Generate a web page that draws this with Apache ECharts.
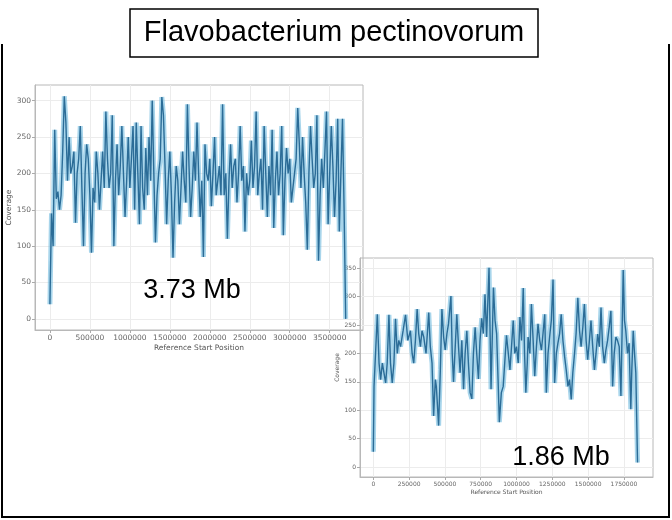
<!DOCTYPE html>
<html>
<head>
<meta charset="utf-8">
<script src="https://cdn.jsdelivr.net/npm/echarts@6/dist/echarts.min.js"></script>
<style>
  html, body { margin: 0; padding: 0; background: #fff; }
  #wrap { position: relative; width: 672px; height: 520px; }
  #plots, #annot { position: absolute; left: 0; top: 0; width: 672px; height: 520px; }
  #plots { filter: blur(0.45px); }
</style>
</head>
<body>
<div id="wrap">
  <div id="plots"></div>
  <div id="annot"></div>
</div>
<script>
// Genome-wide read coverage for the two replicons of Flavobacterium pectinovorum.
const titleText = 'Flavobacterium pectinovorum';
const sizeLabels = ['3.73 Mb', '1.86 Mb'];

// Replicon 1: coverage per 20 kb window, from position 0
const repliconAStep = 20000;
const repliconACoverage = [
  20, 145, 100, 260, 165, 175, 150, 170, 230, 306,
  270, 190, 250, 200, 210, 230, 132, 200, 220, 265,
  180, 100, 200, 240, 220, 170, 91, 180, 160, 230,
  200, 150, 190, 230, 180, 285, 220, 180, 200, 280,
  100, 190, 240, 170, 210, 265, 200, 140, 190, 250,
  180, 220, 265, 150, 270, 200, 130, 265, 180, 150,
  235, 170, 250, 190, 300, 200, 105, 170, 200, 220,
  305, 280, 210, 130, 190, 230, 170, 84, 160, 210,
  190, 130, 180, 230, 190, 160, 295, 210, 140, 180,
  230, 190, 270, 200, 140, 190, 85, 240, 200, 190,
  220, 155, 200, 250, 170, 190, 210, 170, 295, 170,
  200, 110, 190, 240, 180, 210, 220, 160, 200, 265,
  190, 210, 120, 200, 170, 190, 245, 180, 210, 285,
  170, 200, 220, 150, 265, 200, 140, 210, 170, 260,
  125, 190, 230, 170, 200, 265, 115, 190, 235, 200,
  220, 160, 180, 200, 220, 290, 240, 180, 250, 200,
  160, 95, 200, 265, 220, 180, 200, 280, 80, 170,
  220, 180, 230, 285, 130, 200, 265, 210, 140, 190,
  275, 120, 200, 275, 150, 0
];

// Replicon 2: window start (kb) and coverage
const repliconBStartKb = [
  0, 5, 28, 40, 51, 63, 74, 86, 97, 109,
  120, 132, 144, 155, 167, 178, 190, 208, 225, 241,
  259, 271, 282, 294, 306, 317, 329, 340, 352, 368,
  387, 398, 410, 421, 433, 440, 456, 468, 479, 491,
  502, 514, 525, 542, 551, 560, 572, 583, 595, 606,
  618, 630, 641, 653, 664, 676, 688, 699, 711, 722,
  734, 745, 757, 768, 780, 791, 808, 822, 839, 850,
  861, 871, 880, 894, 907, 930, 954, 965, 977, 988,
  1000, 1012, 1024, 1035, 1047, 1056, 1065, 1075, 1081, 1093,
  1104, 1116, 1127, 1139, 1150, 1162, 1174, 1185, 1197, 1208,
  1220, 1231, 1243, 1255, 1266, 1278, 1289, 1301, 1312, 1324,
  1336, 1347, 1359, 1370, 1382, 1393, 1405, 1416, 1428, 1440,
  1451, 1463, 1474, 1486, 1497, 1509, 1520, 1532, 1544, 1555,
  1567, 1578, 1590, 1601, 1613, 1624, 1636, 1647, 1659, 1671,
  1682, 1694, 1705, 1717, 1729, 1745, 1754, 1763, 1775, 1786,
  1798, 1805, 1815, 1824, 1833, 1845
];
const repliconBCoverage = [
  27, 142, 269, 183, 154, 183, 183, 148, 183, 268,
  183, 148, 183, 261, 200, 223, 212, 240, 268, 223,
  240, 200, 183, 223, 278, 235, 212, 240, 229, 200,
  272, 212, 183, 90, 154, 142, 73, 171, 278, 229,
  206, 235, 252, 301, 200, 150, 212, 269, 212, 166,
  223, 137, 200, 240, 183, 131, 120, 200, 246, 200,
  155, 223, 262, 235, 304, 229, 351, 137, 316, 258,
  235, 155, 79, 131, 142, 232, 171, 212, 258, 200,
  212, 183, 264, 223, 315, 200, 131, 183, 229, 200,
  287, 223, 160, 212, 252, 223, 206, 235, 269, 131,
  200, 229, 258, 330, 148, 200, 218, 235, 269, 223,
  194, 171, 142, 154, 119, 166, 200, 235, 298, 240,
  212, 246, 287, 223, 189, 223, 258, 212, 171, 200,
  234, 212, 281, 212, 183, 206, 223, 246, 275, 142,
  200, 229, 223, 212, 125, 347, 258, 240, 200, 218,
  102, 171, 240, 200, 166, 8
];

// Tick values shown on each axis
const xTicksA = [0, 500000, 1000000, 1500000, 2000000, 2500000, 3000000, 3500000];
const yTicksA = [0, 50, 100, 150, 200, 250, 300];
const xTicksB = [0, 250000, 500000, 750000, 1000000, 1250000, 1500000, 1750000];
const yTicksB = [0, 50, 100, 150, 200, 250, 300, 350];

const seriesA = repliconACoverage.map((v, i) => [i * repliconAStep, v]);
const seriesB = repliconBCoverage.map((v, i) => [repliconBStartKb[i] * 1000, v]);

const FONT = 'DejaVu Sans';
const BAND = 'rgba(110,185,222,0.6)';
const CORE = '#2b6c97';
const plain = v => String(v);

function xAxis(gridIndex, min, max, ticks, fs, gap) {
  return {
    type: 'value', gridIndex, min, max,
    name: 'Reference Start Position', nameLocation: 'middle', nameGap: gap,
    nameTextStyle: { fontFamily: FONT, fontSize: fs, color: '#555' },
    axisLine: { show: true, onZero: false, lineStyle: { color: '#b8b8b8', width: 1 } },
    axisTick: { show: true, customValues: ticks, length: 3, lineStyle: { color: '#aaa' } },
    axisLabel: { customValues: ticks, formatter: plain, fontFamily: FONT, fontSize: fs, color: '#666', margin: 4 },
    splitLine: { show: true, lineStyle: { color: '#ececec', width: 1 } }
  };
}
function yAxis(gridIndex, min, max, ticks, fs, gap) {
  return {
    type: 'value', gridIndex, min, max,
    name: 'Coverage', nameLocation: 'middle', nameGap: gap, nameRotate: 90,
    nameTextStyle: { fontFamily: FONT, fontSize: fs, color: '#555' },
    axisLine: { show: true, onZero: false, lineStyle: { color: '#b8b8b8', width: 1 } },
    axisTick: { show: true, customValues: ticks, length: 3, lineStyle: { color: '#aaa' } },
    axisLabel: { customValues: ticks, formatter: plain, fontFamily: FONT, fontSize: fs, color: '#666', margin: 4 },
    splitLine: { show: true, lineStyle: { color: '#ececec', width: 1 } }
  };
}
function coverageSeries(idx, data) {
  return [
    { type: 'line', xAxisIndex: idx, yAxisIndex: idx, data, symbol: 'none', silent: true,
      lineStyle: { color: BAND, width: 5 }, z: 2 },
    { type: 'line', xAxisIndex: idx, yAxisIndex: idx, data, symbol: 'none', silent: true,
      lineStyle: { color: CORE, width: 1.4 }, z: 3 }
  ];
}

const plots = echarts.init(document.getElementById('plots'), null, { renderer: 'canvas' });
plots.setOption({
  backgroundColor: '#fff',
  animation: false,
  grid: [
    { left: 35, top: 85, width: 328, height: 245, show: true, borderColor: '#b8b8b8', borderWidth: 1, backgroundColor: 'transparent' },
    { left: 360, top: 258, width: 293, height: 219, show: true, borderColor: '#b8b8b8', borderWidth: 1, backgroundColor: 'transparent' }
  ],
  xAxis: [
    xAxis(0, -186500, 3916500, xTicksA, 7.5, 14),
    xAxis(1, -93000, 1953000, xTicksB, 6, 12)
  ],
  yAxis: [
    yAxis(0, -15.3, 321.5, yTicksA, 7.5, 22),
    yAxis(1, -17.5, 368, yTicksB, 6, 18)
  ],
  series: [...coverageSeries(0, seriesA), ...coverageSeries(1, seriesB)]
});

// Frame, title box and replicon size labels drawn crisp on top
const annot = echarts.init(document.getElementById('annot'), null, { renderer: 'canvas' });
annot.setOption({
  backgroundColor: 'transparent',
  animation: false,
  graphic: [
    { type: 'polyline', shape: { points: [[2, 44], [2, 517], [669, 517], [669, 44]] }, silent: true,
      style: { fill: 'none', stroke: '#000', lineWidth: 2 }, z: 100 },
    { type: 'rect', shape: { x: 130, y: 9, width: 408, height: 48 }, silent: true,
      style: { fill: '#fff', stroke: '#000', lineWidth: 1.5 }, z: 101 },
    { type: 'text', x: 334, y: 33, silent: true, z: 102,
      style: { text: titleText, fontFamily: 'Liberation Sans', fontSize: 29, fill: '#000', align: 'center', verticalAlign: 'middle' } },
    { type: 'text', x: 192, y: 291, silent: true, z: 102,
      style: { text: sizeLabels[0], fontFamily: 'Liberation Sans', fontSize: 27, fill: '#000', align: 'center', verticalAlign: 'middle' } },
    { type: 'text', x: 561, y: 458, silent: true, z: 102,
      style: { text: sizeLabels[1], fontFamily: 'Liberation Sans', fontSize: 27, fill: '#000', align: 'center', verticalAlign: 'middle' } }
  ]
});
</script>
</body>
</html>
